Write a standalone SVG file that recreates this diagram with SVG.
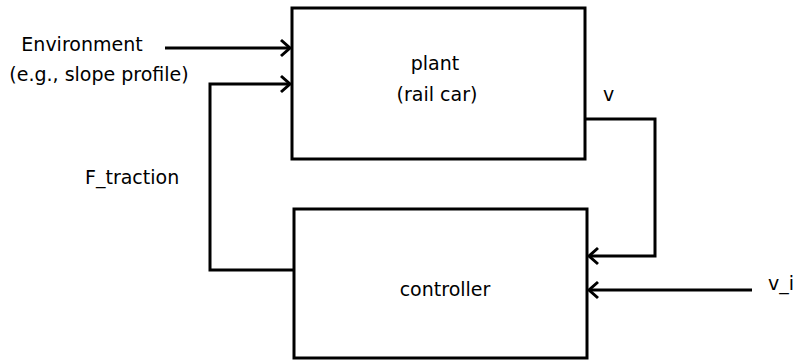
<svg xmlns="http://www.w3.org/2000/svg" width="796" height="360" viewBox="0 0 796 360">
<style>
.box{fill:#fff;stroke:#000;stroke-width:3}
.ln{fill:none;stroke:#000;stroke-width:3}
text{font-family:"DejaVu Sans",sans-serif;font-size:19px;fill:#000}
</style>
<defs>
<marker id="ah" viewBox="-12 -10 14 20" refX="0" refY="0" markerWidth="14" markerHeight="20" markerUnits="userSpaceOnUse" orient="auto">
<path d="M-9,-8 L0,0 L-9,8" fill="none" stroke="#000" stroke-width="3"/>
</marker>
</defs>
<rect width="796" height="360" fill="#fff"/>
<g id="plant">
<rect class="box" x="292" y="8" width="293" height="151"/>
<text x="435" y="70" text-anchor="middle">plant</text>
<text x="437" y="101" text-anchor="middle">(rail car)</text>
</g>
<g id="controller">
<rect class="box" x="294" y="209" width="293" height="149"/>
<text x="445" y="296" text-anchor="middle">controller</text>
</g>
<g id="environment">
<text x="82" y="51" text-anchor="middle">Environment</text>
<text x="99" y="81" text-anchor="middle">(e.g., slope profile)</text>
</g>
<g id="connectors">
<path class="ln" d="M165,48 L290,48" marker-end="url(#ah)"/>
<path class="ln" d="M294,270 L210,270 L210,84 L290,84" marker-end="url(#ah)"/>
<path class="ln" d="M585,119 L655,119 L655,256 L589,256" marker-end="url(#ah)"/>
<path class="ln" d="M752,290 L589,290" marker-end="url(#ah)"/>
<text x="603" y="101">v</text>
<text x="85" y="184">F_traction</text>
<text x="768" y="290">v_i</text>
</g>
</svg>
